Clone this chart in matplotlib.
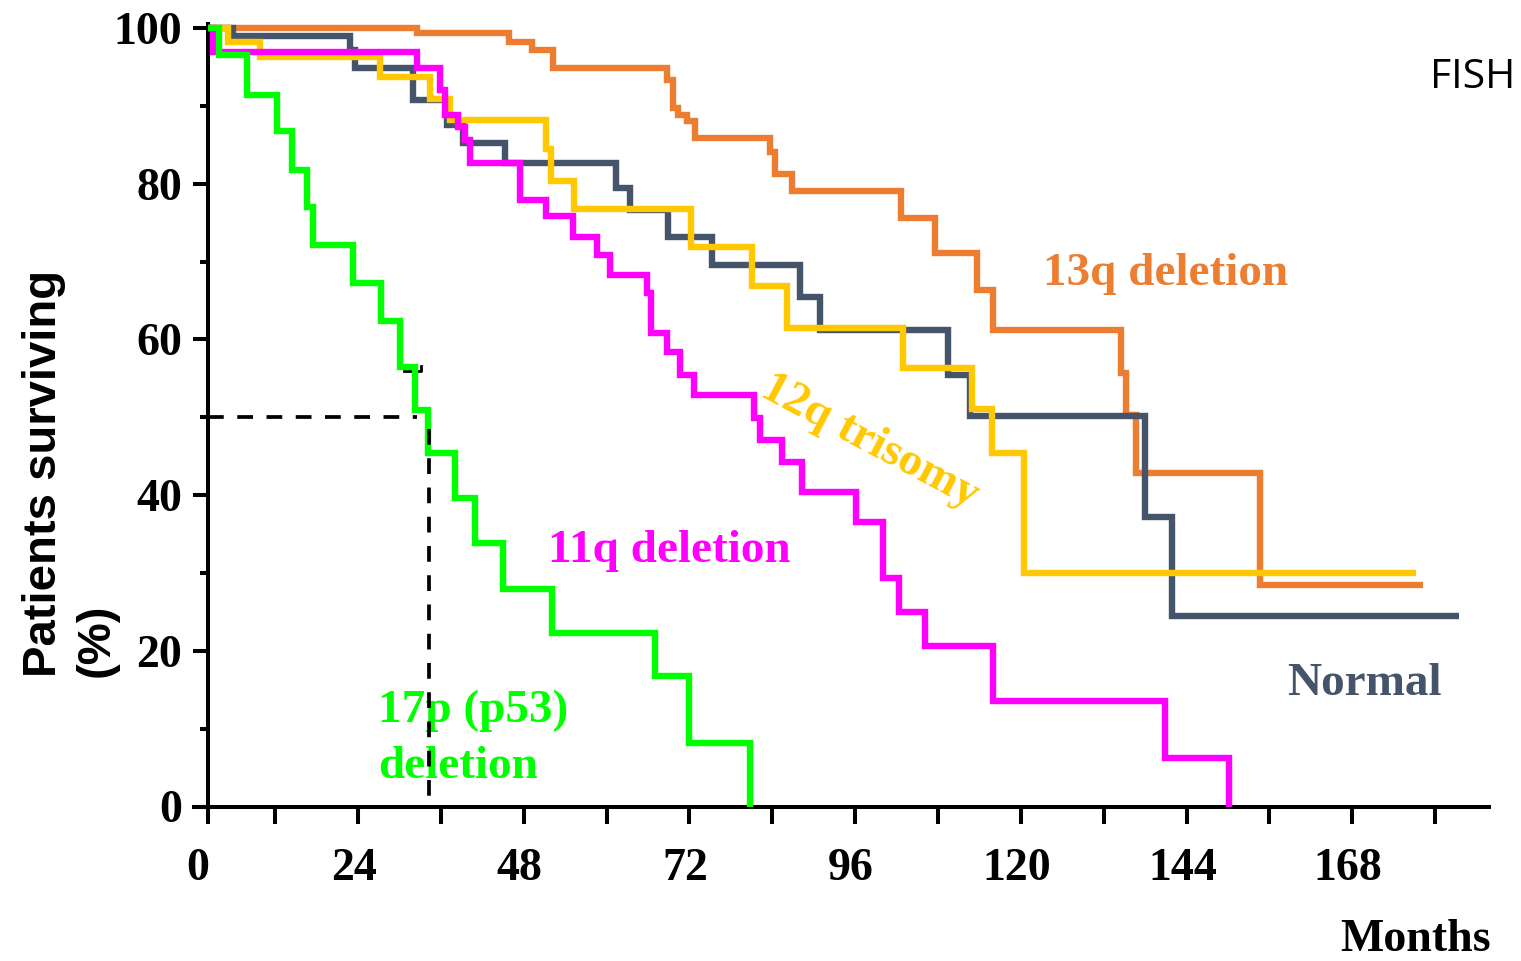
import matplotlib
matplotlib.use("Agg")
import matplotlib.pyplot as plt
from matplotlib.transforms import ScaledTranslation

# Kaplan-Meier overall survival by FISH category (time in months, % surviving)
months_13q = [2.3, 32.5, 45.8, 49.2, 52.3, 68.7, 69.6, 70.3, 71.6, 72.8, 83.7, 84.4,
              86.8, 102.7, 107.6, 113.6, 116.0, 134.5, 135.3, 136.7, 154.7, 178.2]
surv_13q = [100, 99.4, 98.2, 97.2, 94.8, 93.3, 89.7, 88.8, 88.0, 85.8, 84.1, 81.3,
            79.1, 75.6, 71.1, 66.3, 61.2, 55.7, 50.3, 42.8, 28.5, 28.5]

months_normal = [2.3, 5.9, 22.8, 23.6, 32.0, 36.9, 39.2, 45.3, 61.3, 63.4, 68.9, 75.2,
                 88.0, 90.9, 109.5, 112.6, 138.0, 141.9, 183.4]
surv_normal = [100, 98.9, 97.2, 94.8, 90.8, 87.5, 85.2, 82.6, 79.4, 76.6, 73.1, 69.5,
               65.5, 61.2, 55.4, 50.1, 37.2, 24.5, 24.5]

months_12q = [2.3, 5.2, 9.8, 27.2, 34.4, 37.3, 51.3, 52.0, 55.3, 72.3, 81.0, 86.1,
              103.0, 112.9, 115.8, 120.4, 177.3]
surv_12q = [100, 98.2, 96.3, 93.7, 90.9, 88.2, 84.4, 80.4, 76.8, 71.9, 66.8, 61.4,
            56.3, 51.1, 45.4, 30.0, 30.0]

months_11q = [2.3, 3.0, 32.5, 35.9, 36.6, 38.5, 39.5, 40.2, 47.5, 51.3, 55.2, 58.6,
              60.5, 65.8, 66.5, 68.7, 70.6, 72.6, 81.3, 82.2, 85.4, 88.3, 96.2, 100.1,
              102.3, 106.1, 116.0, 140.9, 150.1]
surv_11q = [100, 96.9, 94.8, 92.0, 88.8, 87.3, 85.6, 82.6, 77.9, 75.8, 73.2, 70.8,
            68.3, 65.9, 60.8, 58.4, 55.4, 52.9, 49.9, 47.1, 44.3, 40.4, 36.6, 29.3,
            25.0, 20.6, 13.6, 6.2, 0]

months_17p = [2.3, 3.8, 7.9, 12.2, 14.4, 16.6, 17.5, 23.3, 27.4, 30.1, 32.3, 34.2,
              38.1, 40.9, 45.0, 52.1, 67.0, 72.0, 80.8]
surv_17p = [100, 96.5, 91.4, 86.7, 81.8, 77.0, 72.1, 67.2, 62.3, 56.5, 50.9, 45.4,
            39.6, 33.8, 28.0, 22.3, 16.7, 8.1, 0]

median_17p = 34.3          # months at which the 17p curve crosses 50 %
axis_origin = 2.3          # month where the survival axis is drawn
x_ticks = [24, 48, 72, 96, 120, 144, 168]
x_minor = [12, 36, 60, 84, 108, 132, 156, 180]
y_ticks = [0, 20, 40, 60, 80, 100]
y_minor = [10, 30, 50, 70, 90]

C_13Q = "#ED7D31"
C_NORMAL = "#44546A"
C_12Q = "#FFC800"
C_11Q = "#FF00FF"
C_17P = "#00FF00"

SERIF = "Liberation Serif"
W, H = 1521, 961

fig = plt.figure(figsize=(W / 100, H / 100), dpi=100)
ax = fig.add_axes([192.3 / W, 1 - 806.5 / H, (1491 - 192.3) / W, (806.5 - 21.7) / H])
ax.set_xlim(0, 188.1)
ax.set_ylim(0, 100.8)

line_kw = dict(where="post", lw=4.6, solid_joinstyle="miter", solid_capstyle="butt")
ax.step(months_13q, surv_13q, color=C_13Q, zorder=2, **line_kw)
ax.step(months_normal, surv_normal, color=C_NORMAL, zorder=3, **line_kw)
ax.step(months_12q, surv_12q, color=C_12Q, zorder=4, **line_kw)
ax.step(months_11q, surv_11q, color=C_11Q, zorder=5, **line_kw)
ax.step(months_17p, surv_17p, color=C_17P, zorder=6, **line_kw)

# median survival guide for the 17p group
guide_kw = dict(color="black", lw=2.7, dashes=(4.2, 3.6), zorder=8, clip_on=False)
ax.plot([axis_origin, median_17p - 1.8], [50, 50], **guide_kw)
ax.plot([median_17p, median_17p], [48.5, 0], **guide_kw)
ax.plot([30.6, 33.1, 33.1], [55.9, 55.9, 56.6], color="black", lw=2.0, zorder=5.5)

# axes styling
for side in ("top", "right"):
    ax.spines[side].set_visible(False)
ax.spines["left"].set_position(("data", axis_origin))
for side in ("left", "bottom"):
    ax.spines[side].set_linewidth(2.9)
    ax.spines[side].set_capstyle("butt")

ax.set_xticks([axis_origin] + x_ticks)
ax.set_xticklabels(["0"] + [str(t) for t in x_ticks])
ax.set_xticks(x_minor, minor=True)
ax.set_yticks(y_ticks)
ax.set_yticklabels([str(t) for t in y_ticks])
ax.set_yticks(y_minor, minor=True)

ax.tick_params(axis="x", which="both", direction="out", length=12.2, width=2.9, pad=18)
ax.tick_params(axis="y", which="major", direction="out", length=10.8, width=2.9, pad=8)
ax.tick_params(axis="y", which="minor", direction="out", length=5.8, width=2.9)

for lab in ax.get_xticklabels() + ax.get_yticklabels():
    lab.set_fontfamily(SERIF)
    lab.set_fontweight("bold")
    lab.set_fontsize(33)
for i, lab in enumerate(ax.get_xticklabels()):
    dx = -10 if i == 0 else -4
    lab.set_transform(lab.get_transform() + ScaledTranslation(dx / 100, 0, fig.dpi_scale_trans))

# curve labels
lab_kw = dict(fontfamily=SERIF, fontweight="bold", fontsize=34, zorder=7)
ax.text(123.2, 67.0, "13q deletion", color=C_13Q, ha="left", va="baseline", **lab_kw)
ax.text(51.5, 31.4, "11q deletion", color=C_11Q, ha="left", va="baseline", **lab_kw)
ax.text(158.6, 14.3, "Normal", color=C_NORMAL, ha="left", va="baseline", **lab_kw)
ax.text(26.9, 3.6, "17p (p53)\ndeletion", color=C_17P, ha="left", va="baseline",
        linespacing=1.45, **lab_kw)
ax.text(98.1, 46.8, "12q trisomy", color=C_12Q, ha="center", va="center",
        rotation=-28, rotation_mode="anchor", **lab_kw)

# axis titles and panel tag
fig.text(1491 / W, 1 - 951 / H, "Months", fontfamily=SERIF, fontweight="bold",
         fontsize=33, ha="right", va="baseline")
fig.text(22 / W, 1 - 677 / H, "Patients surviving\n(%)", fontfamily="Liberation Sans",
         fontweight="bold", fontsize=34, rotation=90, ha="left", va="bottom",
         multialignment="left", linespacing=1.25)
fig.text(1515 / W, 1 - 88 / H, "FISH", fontfamily="Open Sans", fontsize=29.5,
         ha="right", va="baseline")

fig.savefig("out.png", dpi=100)
